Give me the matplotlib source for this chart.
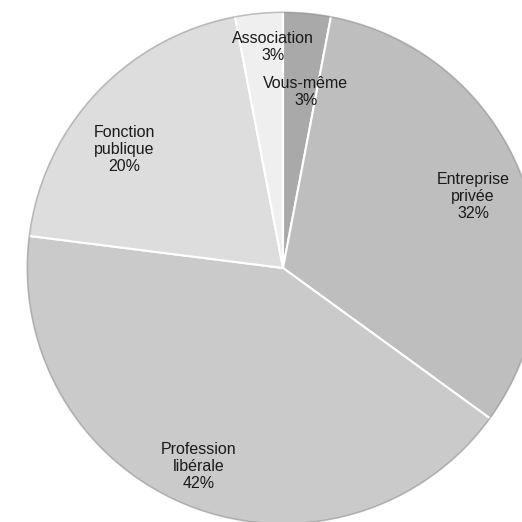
"""Pie chart: repartition by employer type."""

import numpy as np
from matplotlib import pyplot as plt
from matplotlib.patches import Circle

# --------------------------------------------------------------------------
LABELS = ["Vous-même", "Entreprise\nprivée", "Profession\nlibérale",
          "Fonction\npublique", "Association"]
VALUES = [3, 32, 42, 20, 3]
COLORS = ["#a9a9a9", "#bebebe", "#cacaca", "#dddddd", "#efefef"]
LABEL_DIST = [0.69, 0.79, 0.84, 0.77, 0.86]
LABEL_SHIFT = [-2.0, -1.0, -1.5, 6.4, -2.8]   # degrees
# --------------------------------------------------------------------------

plt.rcParams['font.family'] = ['Liberation Sans', 'DejaVu Sans']

fig = plt.figure(figsize=(5.22, 5.22), dpi=100)
ax = fig.add_axes([0, 0, 1, 1])

R = 257.0
cx, cy = 283.0, 522 - 268.0

wedges, _ = ax.pie(VALUES, colors=COLORS, startangle=90, counterclock=False,
                   radius=1.0, center=(0, 0),
                   wedgeprops=dict(edgecolor="white", linewidth=1.5))

# soft darker rim like the original bevel
ax.add_patch(Circle((0, 0), 0.995, fill=False, edgecolor="#8c8c8c",
                    linewidth=1.2, alpha=0.5, zorder=3))

# labels at mid angle of each slice
total = float(sum(VALUES))
start = 90.0
for lab, val, d, sh in zip(LABELS, VALUES, LABEL_DIST, LABEL_SHIFT):
    span = 360.0 * val / total
    mid = np.deg2rad(start - span / 2 + sh)
    x, y = d * np.cos(mid), d * np.sin(mid)
    ax.text(x, y, lab + "\n%d%%" % val, ha="center", va="center",
            fontsize=11.5, color="#1a1a1a", linespacing=1.2, zorder=4)
    start -= span

ax.set_xlim(-cx / R, (522 - cx) / R)
ax.set_ylim(-cy / R, (522 - cy) / R)
ax.set_aspect("equal")
ax.axis("off")

fig.savefig("out.png", dpi=100)
